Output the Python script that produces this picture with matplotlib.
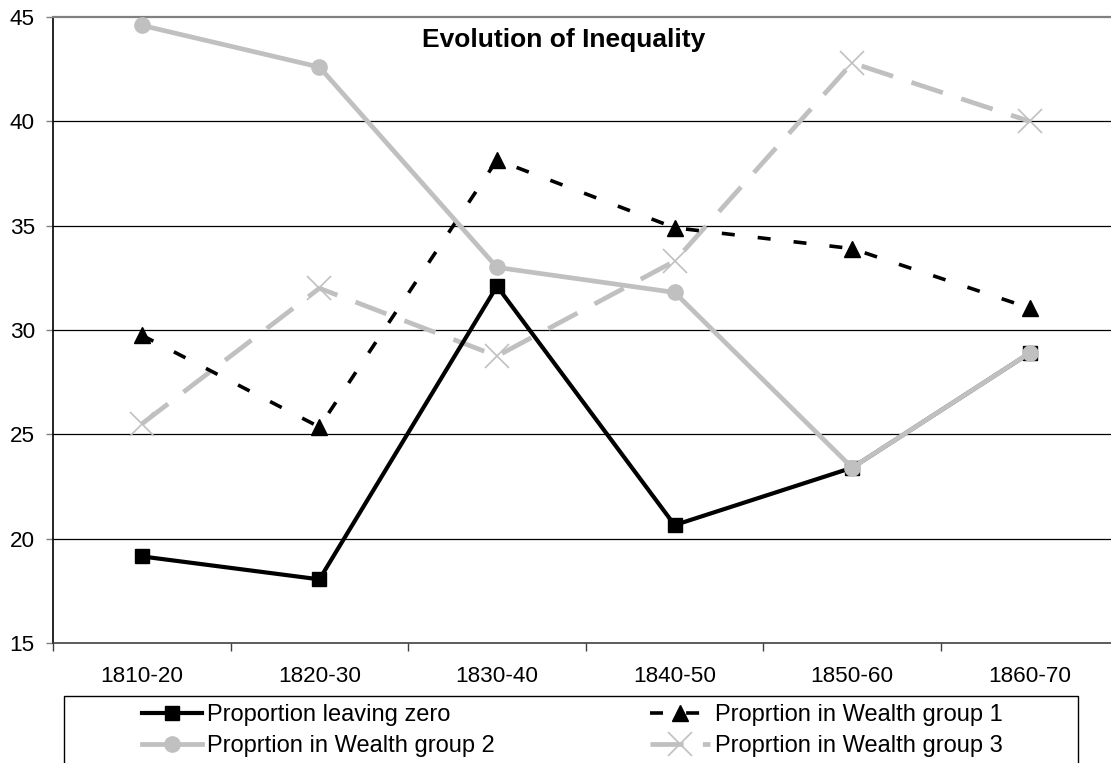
import matplotlib
matplotlib.use("Agg")
import matplotlib.pyplot as plt
from matplotlib.patches import Rectangle
from matplotlib.ticker import FixedLocator

categories = ["1810-20", "1820-30", "1830-40", "1840-50", "1850-60", "1860-70"]
leaving_zero = [19.15, 18.05, 32.1, 20.65, 23.4, 28.9]
wealth_group1 = [29.75, 25.35, 38.15, 34.9, 33.9, 31.05]
wealth_group2 = [44.6, 42.6, 33.0, 31.8, 23.4, 28.9]
wealth_group3 = [25.5, 32.0, 28.75, 33.3, 42.8, 40.0]
yticks = [15, 20, 25, 30, 35, 40, 45]

plt.rcParams['font.family'] = ['Liberation Sans', 'DejaVu Sans']
FS = 16.2
FS_LEG = 17.0
FS_TITLE = 19
GRAY = "#C0C0C0"

W, H = 1111, 763
fig = plt.figure(figsize=(W / 100, H / 100), dpi=100)
ax = fig.add_axes([53 / W, (H - 643) / H, 1065.6 / W, 626 / H])

x = list(range(len(categories)))

l0, = ax.plot(x, leaving_zero, color="black", lw=3.0, marker="s", ms=10.5,
              label="Proportion leaving zero", zorder=5)
l1, = ax.plot(x, wealth_group1, color="black", lw=2.6, dashes=(3.6, 6.4), marker="^", ms=11.5,
              label="Proprtion in Wealth group 1", zorder=4)
l2, = ax.plot(x, wealth_group2, color=GRAY, lw=3.4, marker="o", ms=11,
              label="Proprtion in Wealth group 2", zorder=6)
l3, = ax.plot(x, wealth_group3, color=GRAY, lw=3.4, dashes=(7.0, 4.1), marker="x", ms=17, mew=1.2,
              label="Proprtion in Wealth group 3", zorder=3)

ax.set_xlim(-0.5, len(categories) - 0.5)
ax.set_ylim(15, 45)
ax.set_yticks(yticks)
ax.set_xticks(x)
ax.set_xticklabels(categories)
ax.xaxis.set_minor_locator(FixedLocator([i + 0.5 for i in range(-1, len(categories))]))
ax.tick_params(axis="x", which="major", length=0, pad=16.5, labelsize=FS)
ax.tick_params(axis="x", which="minor", length=5.8, width=1, color="#404040", direction="out")
ax.tick_params(axis="y", which="major", length=5, width=1, color="#808080", pad=8, labelsize=FS)

for yv in yticks[1:-1]:
    ax.axhline(yv, color="black", lw=0.9, zorder=1)

ax.spines["top"].set_color("#808080")
ax.spines["top"].set_linewidth(1.6)
ax.spines["right"].set_visible(False)
ax.spines["left"].set_color("black")
ax.spines["left"].set_linewidth(1.2)
ax.spines["bottom"].set_color("#404040")
ax.spines["bottom"].set_linewidth(1.2)

fig.text(563.5 / W, 1 - 40 / H, "Evolution of Inequality",
         ha="center", va="center", fontsize=FS_TITLE, fontweight="bold")

# legend frame
fig.patches.append(Rectangle((64 / W, -0.05), (1078 - 64) / W, (H - 696) / H + 0.05,
                             transform=fig.transFigure, facecolor="white",
                             edgecolor="black", lw=1.0, zorder=0))
leg = fig.legend([l0, l2, l1, l3], [h.get_label() for h in (l0, l2, l1, l3)],
                 loc="upper left", bbox_to_anchor=(142 / W, (H - 704) / H), ncol=2,
                 frameon=False, fontsize=FS_LEG, handlelength=60 / 23.6, handletextpad=0.22,
                 columnspacing=6.55, labelspacing=0.4, borderpad=0, borderaxespad=0)

fig.savefig("out.png", dpi=100)
